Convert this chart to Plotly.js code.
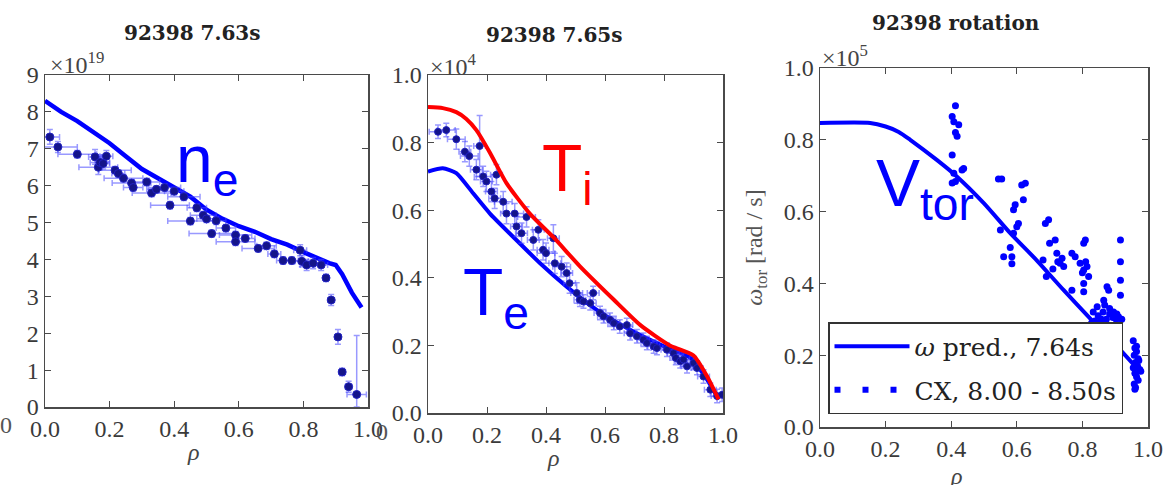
<!DOCTYPE html>
<html><head><meta charset="utf-8">
<script src="https://cdn.plot.ly/plotly-3.0.1.min.js"></script>
<style>html,body{margin:0;padding:0;background:#fff}#c{width:1165px;height:485px}</style>
</head><body><div id="c"></div>
<script>
// ---------- Panel 1: electron density (x10^19) ----------
const ne_line_rho = [0,0.05,0.1,0.15,0.2,0.25,0.3,0.35,0.4,0.45,0.5,0.55,0.6,0.65,0.7,0.75,0.8,0.85,0.88,0.9,0.92,0.95,0.98];
const ne_line_val = [8.3,8.0,7.75,7.45,7.15,6.8,6.45,6.2,5.95,5.7,5.35,5.1,4.9,4.75,4.55,4.4,4.2,4.0,3.9,3.85,3.6,3.1,2.7];
const ne_rho = [0.015,0.04,0.10,0.155,0.165,0.17,0.18,0.19,0.217,0.227,0.243,0.268,0.273,0.315,0.33,0.345,0.37,0.387,0.40,0.43,0.45,0.47,0.49,0.50,0.516,0.53,0.56,0.59,0.59,0.62,0.66,0.686,0.71,0.737,0.764,0.79,0.795,0.81,0.83,0.855,0.87,0.886,0.907,0.92,0.94,0.965];
const ne_val = [7.32,7.05,6.85,6.78,6.5,6.63,6.6,6.8,6.42,6.33,6.2,6.07,5.95,6.1,5.8,5.9,5.95,5.47,5.85,5.7,5.04,5.4,5.2,5.1,4.7,5.05,4.85,4.66,4.48,4.57,4.3,4.37,4.15,3.97,3.97,4.25,3.95,3.85,3.9,3.85,3.5,2.9,1.9,0.95,0.55,0.34];
const ne_xerr = [0.03,0.06,0.06,0.02,0.06,0.03,0.02,0.02,0.05,0.02,0.06,0.06,0.03,0.04,0.06,0.03,0.05,0.06,0.03,0.05,0.07,0.03,0.04,0.03,0.07,0.03,0.03,0.05,0.06,0.03,0.05,0.03,0.02,0.02,0.02,0.02,0.02,0.02,0.02,0.02,0.01,0.01,0.01,0.01,0.01,0.03];
const ne_yerr_up = [0.2,0.15,0.1,0.2,0.2,0.2,0.15,0.15,0.1,0.1,0.1,0.1,0.1,0.1,0.1,0.1,0.1,0.1,0.1,0.1,0.1,0.1,0.1,0.1,0.1,0.1,0.1,0.1,0.1,0.1,0.1,0.1,0.1,0.1,0.1,0.15,0.15,0.15,0.15,0.15,0.1,0.15,0.2,0.1,0.15,1.6];
const ne_yerr_dn = [0.2,0.15,0.1,0.2,0.2,0.2,0.15,0.15,0.1,0.1,0.1,0.1,0.1,0.1,0.1,0.1,0.1,0.1,0.1,0.1,0.1,0.1,0.1,0.1,0.1,0.1,0.1,0.1,0.1,0.1,0.1,0.1,0.1,0.1,0.1,0.15,0.15,0.15,0.15,0.15,0.1,0.15,0.2,0.1,0.15,0.34];

// ---------- Panel 2: temperatures (x10^4) ----------
const ti_rho = [0,0.05,0.096,0.13,0.164,0.21,0.266,0.345,0.425,0.515,0.63,0.72,0.82,0.90,0.945,0.985];
const ti_val = [0.905,0.902,0.89,0.87,0.837,0.77,0.68,0.59,0.52,0.434,0.335,0.26,0.2,0.17,0.11,0.04];
const tel_rho = [0,0.05,0.096,0.153,0.21,0.29,0.38,0.47,0.572,0.685,0.80,0.89,0.945,0.985];
const tel_val = [0.714,0.724,0.71,0.65,0.59,0.52,0.443,0.374,0.305,0.246,0.197,0.163,0.1,0.04];
const te_rho = [0.034,0.062,0.096,0.125,0.14,0.164,0.175,0.187,0.198,0.215,
                0.226,0.232,0.255,0.266,0.294,0.30,0.317,0.334,0.357,0.374,
                0.39,0.40,0.425,0.43,0.453,0.47,0.48,0.504,0.515,0.527,
                0.55,0.56,0.583,0.595,0.617,0.63,0.65,0.674,0.685,0.708,
                0.73,0.742,0.765,0.776,0.81,0.832,0.84,0.855,0.866,0.878,
                0.9,0.912,0.934,0.957,0.98,0.997];
const te_val = [0.832,0.837,0.81,0.773,0.76,0.72,0.79,0.70,0.685,0.655,
                0.635,0.705,0.625,0.59,0.59,0.552,0.532,0.58,0.512,0.542,
                0.483,0.473,0.517,0.443,0.433,0.414,0.384,0.355,0.335,0.33,
                0.325,0.355,0.296,0.286,0.276,0.266,0.256,0.26,0.236,0.227,
                0.217,0.207,0.197,0.192,0.187,0.177,0.163,0.153,0.158,0.138,
                0.148,0.133,0.108,0.069,0.05,0.054];
const te_yerr = [0.02,0.02,0.03,0.03,0.03,0.03,0.09,0.03,0.03,0.03,
                 0.03,0.03,0.03,0.03,0.03,0.03,0.03,0.03,0.03,0.03,
                 0.03,0.03,0.04,0.03,0.03,0.03,0.03,0.03,0.02,0.02,
                 0.02,0.02,0.02,0.02,0.02,0.02,0.02,0.02,0.02,0.02,
                 0.02,0.02,0.02,0.02,0.02,0.02,0.02,0.02,0.02,0.02,
                 0.02,0.02,0.02,0.02,0.02,0.02];
const te_xerr = [0.03,0.03,0.03,0.02,0.03,0.02,0.02,0.03,0.02,0.02,
                 0.02,0.02,0.03,0.02,0.03,0.02,0.02,0.03,0.02,0.02,
                 0.02,0.03,0.02,0.02,0.03,0.02,0.02,0.02,0.02,0.02,
                 0.02,0.02,0.02,0.02,0.02,0.02,0.02,0.02,0.02,0.02,
                 0.02,0.02,0.02,0.02,0.02,0.02,0.02,0.02,0.02,0.02,
                 0.02,0.02,0.02,0.02,0.02,0.02];

// ---------- Panel 3: rotation (x10^5 rad/s) ----------
const om_rho = [0,0.153,0.2,0.24,0.275,0.356,0.417,0.5,0.58,0.66,0.743,0.824,0.9,0.98];
const om_val = [0.847,0.847,0.837,0.822,0.8,0.744,0.698,0.623,0.54,0.465,0.381,0.302,0.23,0.15];
const cx_rho = [0.413,0.403,0.423,0.413,0.403,0.408,0.433,0.438,0.403,0.413,0.418,0.408,
  0.544,0.554,0.55,0.56,0.585,0.58,0.59,0.595,0.6,0.605,0.615,0.626,0.62,0.585,0.59,
  0.687,0.697,0.68,0.69,0.70,0.717,0.722,0.732,0.743,0.738,0.71,0.725,
  0.768,0.778,0.793,0.804,0.809,0.804,0.814,0.819,0.804,0.804,0.768,0.81,0.8,
  0.875,0.88,0.865,0.833,0.848,0.863,0.873,0.883,0.893,0.903,0.853,0.838,0.868,0.883,0.845,0.858,0.895,0.905,0.828,0.87,
  0.916,0.916,0.916,0.916,0.91,0.92,
  0.955,0.96,0.965,0.958,0.97,0.962,0.968,0.975,0.96,0.965,0.97,0.958,0.962,0.972,0.978,0.955,0.965,0.96];
const cx_val = [0.895,0.865,0.842,0.82,0.758,0.707,0.716,0.72,0.68,0.684,0.81,0.85,
  0.691,0.691,0.549,0.474,0.474,0.5,0.605,0.619,0.558,0.567,0.674,0.679,0.633,0.455,0.54,
  0.567,0.577,0.465,0.419,0.512,0.521,0.484,0.456,0.447,0.47,0.44,0.46,
  0.484,0.474,0.456,0.512,0.521,0.437,0.447,0.419,0.4,0.377,0.381,0.46,0.43,
  0.391,0.381,0.353,0.32,0.31,0.32,0.30,0.315,0.305,0.30,0.29,0.295,0.34,0.33,0.335,0.30,0.32,0.315,0.29,0.285,
  0.521,0.46,0.409,0.367,0.307,0.3,
  0.24,0.22,0.21,0.2,0.19,0.18,0.17,0.16,0.15,0.14,0.13,0.12,0.11,0.185,0.155,0.165,0.225,0.105];

const tickVals = [0,0.2,0.4,0.6,0.8,1.0];
const tickText = ["0.0","0.2","0.4","0.6","0.8","1.0"];
const neTicks = [0,1,2,3,4,5,6,7,8,9];

const W = 1165, H = 485;
const px = X => X / W, py = Y => 1 - Y / H;
const SERIF = "Liberation Serif, DejaVu Serif, serif";
const DSERIF = "DejaVu Serif, Liberation Serif, serif";
const SANS = "Liberation Sans, Arial, sans-serif";
const AX = '#4a4a4a';

const errCol = 'rgba(70,70,255,0.55)';
const dotCol = '#14148a';

const traces = [
  {x: ne_line_rho, y: ne_line_val, xaxis:'x', yaxis:'y', mode:'lines', line:{color:'#0000ff', width:4.5}, showlegend:false},
  {x: ne_rho, y: ne_val, xaxis:'x', yaxis:'y', mode:'markers', marker:{color:dotCol, size:8, line:{color:'#2020c0', width:1}}, showlegend:false,
   error_x:{type:'data', array:ne_xerr, color:errCol, thickness:1.5, width:3},
   error_y:{type:'data', symmetric:false, array:ne_yerr_up, arrayminus:ne_yerr_dn, color:errCol, thickness:1.5, width:3}},

  {x: tel_rho, y: tel_val, xaxis:'x2', yaxis:'y2', mode:'lines', line:{color:'#0000ff', width:4, shape:'spline', smoothing:0.6}, showlegend:false},
  {x: te_rho, y: te_val, xaxis:'x2', yaxis:'y2', mode:'markers', marker:{color:dotCol, size:7, line:{color:'#2020c0', width:1}}, showlegend:false,
   error_x:{type:'data', array:te_xerr, color:errCol, thickness:1.5, width:3},
   error_y:{type:'data', array:te_yerr, color:errCol, thickness:1.5, width:3}},
  {x: ti_rho, y: ti_val, xaxis:'x2', yaxis:'y2', mode:'lines', line:{color:'#ff0000', width:4, shape:'spline', smoothing:0.6}, showlegend:false},

  {x: om_rho, y: om_val, xaxis:'x3', yaxis:'y3', mode:'lines', line:{color:'#0000ff', width:4, shape:'spline', smoothing:0.6},
   name:'<i>\u03c9</i> pred., 7.64s', legendgroup:'a', showlegend:true},
  {x: cx_rho, y: cx_val, xaxis:'x3', yaxis:'y3', mode:'markers', marker:{color:'#0000ff', size:7}, showlegend:false},
  {x: [null], y: [null], xaxis:'x3', yaxis:'y3', mode:'lines', line:{color:'#0000ff', width:6, dash:'6px,22px'},
   name:'CX, 8.00 - 8.50s', legendgroup:'b', showlegend:true}
];

const tickFont = {family:SERIF, size:24, color:'#3a3a3a'};
function xa(d, anchor){
  return {domain:d, anchor:anchor, range:[0,1], tickvals:tickVals, ticktext:tickText,
    showline:true, mirror:'allticks', linecolor:AX, linewidth:1.5, ticks:'inside', ticklen:6, tickcolor:AX,
    showgrid:false, zeroline:false, tickfont:tickFont};
}
function ya(d, anchor, range, tv, tt){
  return {domain:d, anchor:anchor, range:range, tickvals:tv, ticktext:tt,
    showline:true, mirror:'allticks', linecolor:AX, linewidth:1.5, ticks:'inside', ticklen:6, tickcolor:AX,
    showgrid:false, zeroline:false, tickfont:tickFont};
}

function ann(X, Y, text, size, opts){
  return Object.assign({xref:'paper', yref:'paper', x:px(X), y:py(Y), text:text, showarrow:false,
    xanchor:'center', yanchor:'middle', font:{family:DSERIF, size:size, color:'#222'}}, opts||{});
}
const grayFont = s => ({family:SERIF, size:s, color:'#444'});

const annotations = [
  ann(192, 33, '<b>92398 7.63s</b>', 20),
  ann(554, 35, '<b>92398 7.65s</b>', 20),
  ann(956, 23, '<b>92398 rotation</b>', 20),
  ann(48, 63, '\u00d710<sup>19</sup>', 24, {xanchor:'left', font:grayFont(24)}),
  ann(428, 65, '\u00d710<sup>4</sup>', 24, {xanchor:'left', font:grayFont(24)}),
  ann(820, 56, '\u00d710<sup>5</sup>', 24, {xanchor:'left', font:grayFont(24)}),
  ann(193, 452, '<i>\u03c1</i>', 24, {font:grayFont(24)}),
  ann(553, 458, '<i>\u03c1</i>', 24, {font:grayFont(24)}),
  ann(956, 476, '<i>\u03c1</i>', 24, {font:grayFont(24)}),
  ann(6, 425, '0', 24, {font:{family:SERIF, size:24, color:'#555'}}),
  ann(382, 432, '0', 24, {font:{family:SERIF, size:24, color:'#555'}}),
  ann(174, 164, 'n<sub>e</sub>', 66, {xanchor:'left', font:{family:SANS, size:66, color:'#0000ff'}}),
  ann(540, 173, 'T<sub>i</sub>', 66, {xanchor:'left', font:{family:SANS, size:66, color:'#ff0000'}}),
  ann(461, 297, 'T<sub>e</sub>', 66, {xanchor:'left', font:{family:SANS, size:66, color:'#0000ff'}}),
  ann(874, 188, 'V<sub>tor</sub>', 66, {xanchor:'left', font:{family:SANS, size:66, color:'#0000ff'}})
];

const y3 = ya([py(427), py(68)], 'x3', [0,1], tickVals, tickText);
y3.title = {text:'<i>\u03c9</i><sub>tor</sub> [rad / s]', font:{family:SERIF, size:24, color:'#555'}, standoff:14};

const layout = {
  width:W, height:H, autosize:false, margin:{l:0,r:0,t:0,b:0},
  paper_bgcolor:'#fff', plot_bgcolor:'#fff',
  xaxis: xa([px(45), px(368)], 'y'),
  yaxis: ya([py(407), py(75)], 'x', [0,9], neTicks, neTicks.map(String)),
  xaxis2: xa([px(428), px(723)], 'y2'),
  yaxis2: ya([py(413), py(75)], 'x2', [0,1], tickVals, tickText),
  xaxis3: xa([px(820), px(1148)], 'y3'),
  yaxis3: y3,
  showlegend:true,
  legend:{x:px(828), y:py(322), xanchor:'left', yanchor:'top', bgcolor:'#fff', bordercolor:'#333', borderwidth:1.5,
    font:{family:DSERIF, size:25, color:'#222'}, tracegroupgap:8, itemwidth:75},
  annotations: annotations
};

Plotly.newPlot('c', traces, layout, {staticPlot:true, displayModeBar:false});
</script></body></html>
